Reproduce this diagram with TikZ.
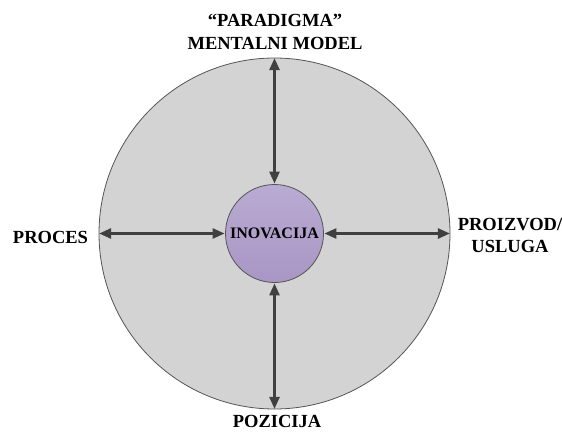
\documentclass[tikz,border=0pt]{standalone}
\usepackage{fontspec}
\setmainfont{Liberation Serif}
\usetikzlibrary{arrows.meta}
\definecolor{ringfill}{HTML}{D3D3D3}
\definecolor{coreTop}{HTML}{B9ABD3}
\definecolor{coreBot}{HTML}{A896C4}
\definecolor{edgegray}{HTML}{555555}
\definecolor{arrowgray}{HTML}{404040}
\tikzset{
  x=1pt, y=1pt,
  label/.style={font=\bfseries\fontsize{18.5}{22.5}\selectfont, align=center, inner sep=0pt},
  link/.style={draw=arrowgray, line width=2.6pt,
    {Triangle[length=12pt,width=10pt]}-{Triangle[length=12pt,width=10pt]}, shorten <=0.5pt, shorten >=0.5pt}
}
\begin{document}
\begin{tikzpicture}
\useasboundingbox (0,0) rectangle (562,432);
\fill[white] (0,0) rectangle (562,432);
% outer ring
\node[circle, minimum size=351pt, inner sep=0pt, draw=edgegray, line width=0.8pt, fill=ringfill] (outer) at (274.5,198.5) {};
% core
\node[circle, minimum size=98pt, inner sep=0pt, draw=edgegray, line width=0.8pt,
      top color=coreTop, bottom color=coreBot, font=\bfseries\fontsize{16}{18}\selectfont] (core) at (274.5,198.5) {INOVACIJA};
% connectors
\draw[link] (core.north) -- (outer.north);
\draw[link] (core.south) -- (outer.south);
\draw[link] (core.west) -- (outer.west);
\draw[link] (core.east) -- (outer.east);
% labels
\node[label] (top) at (275,400) {“PARADIGMA”\\MENTALNI MODEL};
\node[label, anchor=base] (left) at (50.5,189) {PROCES};
\node[label] (right) at (510,196.5) {PROIZVOD/\\USLUGA};
\node[label, anchor=base] (bottom) at (277,5) {POZICIJA};
\end{tikzpicture}
\end{document}
